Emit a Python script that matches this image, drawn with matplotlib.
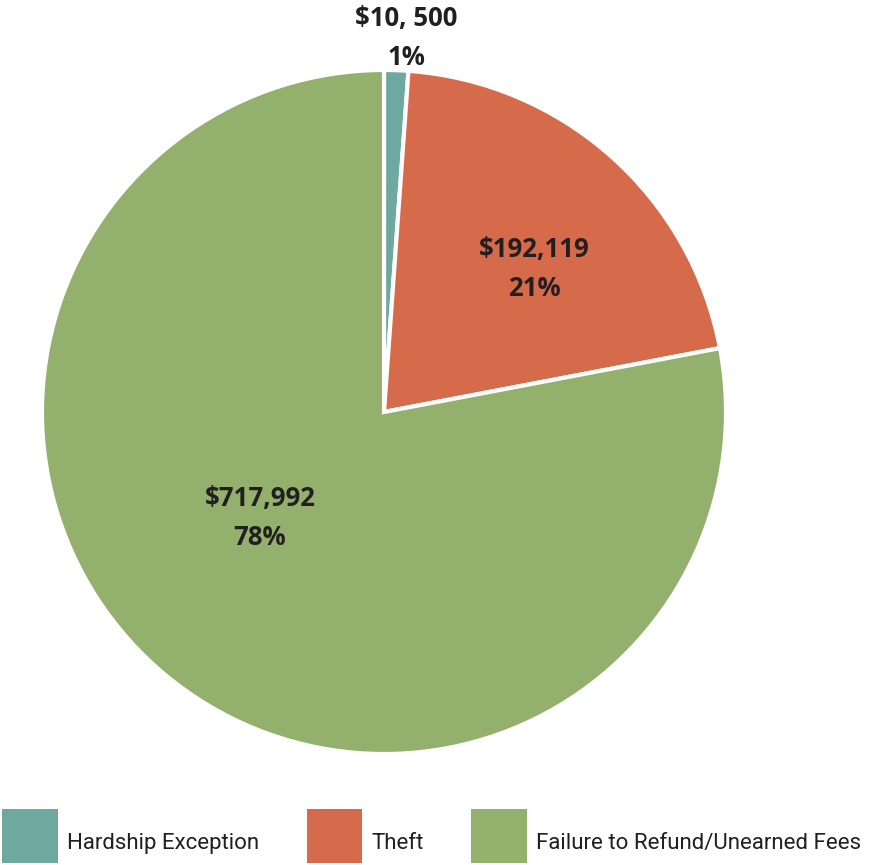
import matplotlib

matplotlib.use("Agg")

import matplotlib.pyplot as plt

CATEGORIES = ["Hardship Exception", "Theft", "Failure to Refund/Unearned Fees"]
AMOUNTS = [10500, 192119, 717992]
AMOUNT_LABELS = ["$10, 500", "$192,119", "$717,992"]
PERCENT_LABELS = ["1%", "21%", "78%"]
COLORS = ["#6FA89E", "#D66B4B", "#93B06C"]


def main():
    fig = plt.figure(figsize=(8.73, 8.65), dpi=100)
    ax = fig.add_axes([0, 0, 1, 1])

    center = (384, 453)
    radius = 342
    wedges, _ = ax.pie(
        AMOUNTS,
        colors=COLORS,
        startangle=90,
        counterclock=False,
        center=center,
        radius=radius,
        wedgeprops={"edgecolor": "white", "linewidth": 3},
        frame=True,
    )
    ax.set_xlim(0, 873)
    ax.set_ylim(0, 865)
    ax.axis("off")

    # label positions, offset from the pie centre in pixels
    offsets = [(22, 374), (150, 143), (-124, -106)]
    for (dx, dy), amt, pct in zip(offsets, AMOUNT_LABELS, PERCENT_LABELS):
        ax.text(center[0] + dx, center[1] + dy, f"{amt}\n{pct}", ha="center", va="center",
                fontsize=18.5, fontweight="bold", family="Open Sans", color="#231F20",
                linespacing=1.55)

    leg = fig.legend(
        wedges,
        CATEGORIES,
        loc="lower left",
        bbox_to_anchor=(0.0, -0.008),
        ncol=3,
        frameon=False,
        prop={"family": "Roboto", "size": 16},
        labelcolor="#231F20",
        handlelength=2.5,
        handleheight=3.36,
        handletextpad=0.4,
        columnspacing=2.15,
        borderaxespad=0.05,
        borderpad=0.05,
    )
    # lift the swatches a little so the labels sit lower against them
    for handle in leg.legend_handles:
        handle.set_linewidth(0)
        handle.set_y(handle.get_y() + 5)
    fig.savefig("out.png", dpi=100)
    plt.close(fig)


if __name__ == "__main__":
    main()
